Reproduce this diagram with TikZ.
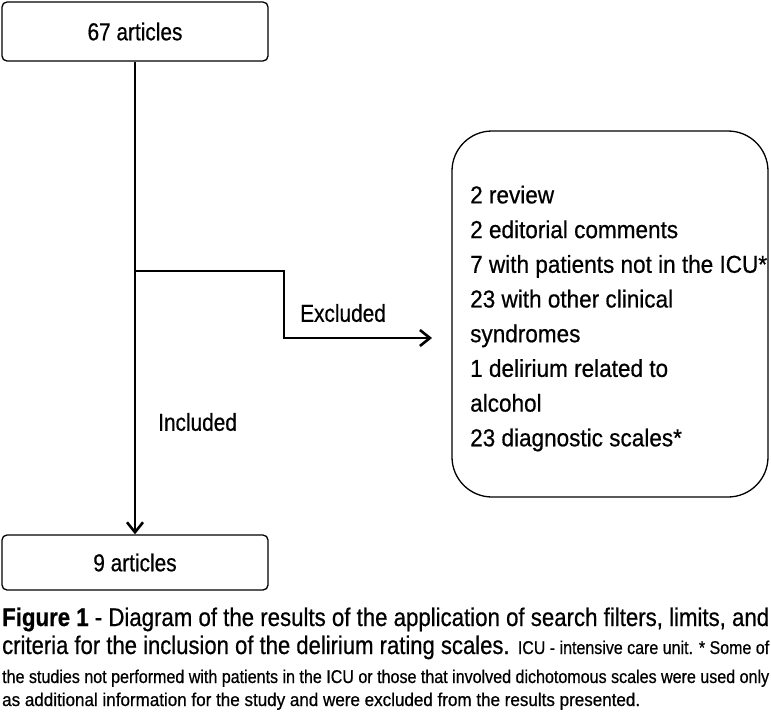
\documentclass[tikz,border=0pt]{standalone}
\usepackage{fontspec}
\setmainfont[FakeStretch=0.85,FakeBold=0.6]{Liberation Sans}
\newfontfamily\boxfont[FakeStretch=0.92,FakeBold=0.6]{Liberation Sans}
\usetikzlibrary{arrows.meta}
\begin{document}
\begin{tikzpicture}[x=1pt,y=-1pt,
  box/.style={draw, line width=1.3pt, rounded corners=5pt, minimum width=266pt,
    minimum height=59pt, inner sep=0pt, font=\fontsize{24.5}{29}\selectfont},
  conn/.style={line width=2.6pt},
  arr/.style={-{Straight Barb[length=10pt,width=16pt]}},
  lbl/.style={inner sep=0pt, font=\fontsize{24.5}{29}\selectfont},
  captionline/.style={anchor=base west, inner sep=0pt}]
\useasboundingbox (0,0) rectangle (771,712);
% boxes
\node[box] (top) at (135,31.5) {67 articles};
\node[box, minimum height=55pt] (bot) at (135,562.5) {9 articles};
\node[draw, line width=1.3pt, rounded corners=40pt, minimum width=316pt,
  minimum height=366pt] (rbox) at (610,314) {};
\node[anchor=west, align=left, inner sep=0pt, font=\boxfont\fontsize{24.5}{34.7}\selectfont]
  (rtext) at (470,318.5) {2 review\\2 editorial comments\\7 with patients not in the ICU*\\23 with other clinical\\syndromes\\1 delirium related to\\alcohol\\23 diagnostic scales*};
% connectors
\draw[conn, arr] (top.south) -- (bot.north);
\coordinate (split) at (135,271);
\coordinate (bend) at (284,271);
\coordinate (exend) at (432,338);
\draw[conn, arr] (split) -- (bend) |- (exend);
% labels
\node[lbl, anchor=west] (exc) at (300,313) {Excluded};
\node[lbl, anchor=west] (inc) at (158,422) {Included};
% caption
\node[captionline] (cap1) at (2,626) {\resizebox{767pt}{\height}{\fontsize{25.5}{30}\selectfont\textbf{Figure 1} - Diagram of the results of the application of search filters, limits, and}};
\node[captionline] (cap2) at (2,654) {\resizebox{767pt}{\height}{\fontsize{25.5}{30}\selectfont criteria for the inclusion of the delirium rating scales. \fontsize{18.5}{22}\selectfont ICU - intensive care unit. * Some of}};
\node[captionline] (cap3) at (2,683) {\resizebox{767pt}{\height}{\fontsize{18.5}{22}\selectfont the studies not performed with patients in the ICU or those that involved dichotomous scales were used only}};
\node[captionline] (cap4) at (2,706) {\resizebox{638pt}{\height}{\fontsize{18.5}{22}\selectfont as additional information for the study and were excluded from the results presented.}};
\end{tikzpicture}
\end{document}
